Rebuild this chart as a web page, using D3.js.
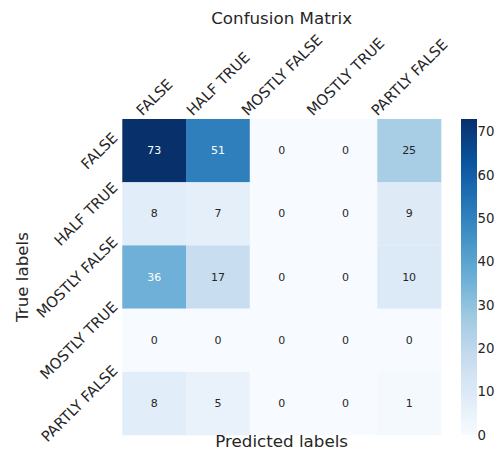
<!DOCTYPE html>
<html><head><meta charset="utf-8">
<script src="https://cdn.jsdelivr.net/npm/d3@7"></script>
<style>body{margin:0;background:#fff}svg{display:block}text{font-family:"DejaVu Sans",sans-serif}</style>
</head><body>
<svg id="c" width="501" height="450"></svg>
<script>
const classes = ["FALSE","HALF TRUE","MOSTLY FALSE","MOSTLY TRUE","PARTLY FALSE"];
const row0 = [73,51,0,0,25];
const row1 = [8,7,0,0,9];
const row2 = [36,17,0,0,10];
const row3 = [0,0,0,0,0];
const row4 = [8,5,0,0,1];
const matrix = [row0,row1,row2,row3,row4];
const cbarTicks = [0,10,20,30,40,50,60,70];
const title = "Confusion Matrix";
const xTitle = "Predicted labels";
const yTitle = "True labels";

const svg = d3.select("#c");
const L = 122.3, R = 441, T = 119, B = 435;
const x = d3.scaleBand().domain(d3.range(5)).range([L,R]);
const y = d3.scaleBand().domain(d3.range(5)).range([T,B]);
const vmax = d3.max(matrix.flat());
const blues = ["#f7fbff","#deebf7","#c6dbef","#9ecae1","#6baed6","#4292c6","#2171b5","#08519c","#08306b"];
const color = d3.scaleLinear().domain(blues.map((_,i)=>i/8*vmax)).range(blues).interpolate(d3.interpolateRgb).clamp(true);

function lum(c){
  const r = d3.rgb(c);
  const f = v=>{v/=255; return v<=0.03928? v/12.92 : Math.pow((v+0.055)/1.055,2.4);};
  return 0.2126*f(r.r)+0.7152*f(r.g)+0.0722*f(r.b);
}

const cells = [];
matrix.forEach((row,i)=>row.forEach((v,j)=>cells.push({i,j,v})));
svg.append("g").selectAll("rect").data(cells).join("rect")
  .attr("x",d=>x(d.j)).attr("y",d=>y(d.i))
  .attr("width",x.bandwidth()+0.3).attr("height",y.bandwidth()+0.3)
  .attr("fill",d=>color(d.v));
svg.append("g").selectAll("text").data(cells).join("text")
  .attr("x",d=>x(d.j)+x.bandwidth()/2).attr("y",d=>y(d.i)+y.bandwidth()/2)
  .attr("text-anchor","middle").attr("dominant-baseline","central")
  .attr("font-size",11)
  .attr("fill",d=>lum(color(d.v))>0.408?"#262626":"#ffffff")
  .text(d=>d.v);

const fs = 14.8;
const capH = 0.73*fs;
// top tick labels
const topG = svg.append("g");
classes.forEach((c,j)=>{
  const t = topG.append("text").attr("font-size",fs).attr("fill","#262626")
    .attr("text-anchor","middle").attr("dominant-baseline","central").text(c);
  const Lw = t.node().getComputedTextLength();
  const half = (Lw+capH)/(2*Math.SQRT2);
  const cx = x(j)+x.bandwidth()/2, cyy = 116.5-half;
  t.attr("x",cx).attr("y",cyy).attr("transform",`rotate(-45,${cx},${cyy})`);
});
// left tick labels
const leftG = svg.append("g");
classes.forEach((c,i)=>{
  const t = leftG.append("text").attr("font-size",fs).attr("fill","#262626")
    .attr("text-anchor","middle").attr("dominant-baseline","central").text(c);
  const Lw = t.node().getComputedTextLength();
  const half = (Lw+capH)/(2*Math.SQRT2);
  const cx = 118.5-half, cyy = y(i)+y.bandwidth()/2;
  t.attr("x",cx).attr("y",cyy).attr("transform",`rotate(-45,${cx},${cyy})`);
});

svg.append("text").attr("x",(L+R)/2).attr("y",24).attr("text-anchor","middle")
  .attr("font-size",16.7).attr("fill","#262626").text(title);
svg.append("text").attr("x",(L+R)/2).attr("y",447).attr("text-anchor","middle")
  .attr("font-size",16.7).attr("fill","#262626").text(xTitle);
svg.append("text").attr("transform",`translate(28,${(T+B)/2}) rotate(-90)`).attr("text-anchor","middle")
  .attr("font-size",16.7).attr("fill","#262626").text(yTitle);

// colorbar
const cbY = d3.scaleLinear().domain([0,vmax]).range([B,T]);
const defs = svg.append("defs");
const grad = defs.append("linearGradient").attr("id","cg").attr("x1",0).attr("y1",1).attr("x2",0).attr("y2",0);
d3.range(0,1.0001,0.02).forEach(p=>grad.append("stop").attr("offset",p).attr("stop-color",color(p*vmax)));
svg.append("rect").attr("x",461).attr("y",T).attr("width",16).attr("height",B-T).attr("fill","url(#cg)");
svg.append("g").selectAll("text").data(cbarTicks).join("text")
  .attr("x",477.5).attr("y",d=>cbY(d)).attr("dominant-baseline","central")
  .attr("font-size",13.3).attr("fill","#262626").text(d=>d);
</script>
</body></html>
